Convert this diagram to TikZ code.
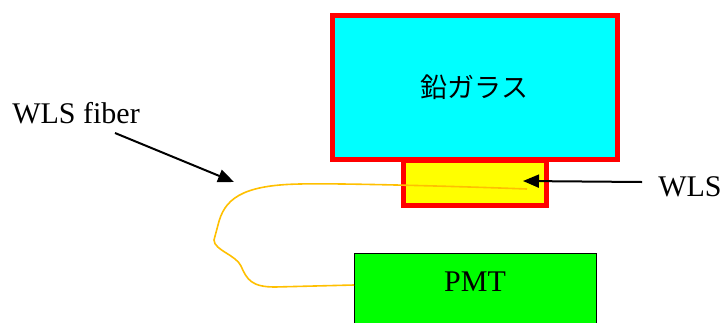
\documentclass[tikz,border=0pt]{standalone}
\usepackage{fontspec}
\setmainfont{Liberation Serif}
\newfontfamily\jpfont{Noto Sans CJK JP}
\usetikzlibrary{arrows.meta}
\definecolor{fibcol}{HTML}{FFC000}
\definecolor{cyanc}{HTML}{00FFFF}
\definecolor{yelc}{HTML}{FFFF00}
\definecolor{grnc}{HTML}{00FF00}
\definecolor{redc}{HTML}{FF0000}
\tikzset{
  redbox/.style={draw=redc, line width=5pt, inner sep=0pt},
  lbl/.style={font=\fontsize{30}{36}\selectfont, inner sep=0pt},
  arr/.style={draw=black, line width=2pt, -{Triangle[length=16pt,width=13pt]}},
  fib/.style={draw=fibcol, line width=1.6pt},
}
\begin{document}
\begin{tikzpicture}[x=1pt,y=-1pt]
\clip (0,0) rectangle (725,322);
\fill[white] (0,0) rectangle (725,322);
% boxes
\node[redbox, fill=cyanc, minimum width=285pt, minimum height=144pt,
      font=\jpfont\fontsize{27}{32}\selectfont] (glass) at (474.5,87) {鉛ガラス};
\node[redbox, fill=yelc, minimum width=143pt, minimum height=45pt] (wls) at (474.5,182.5) {};
\node[draw=black, line width=1pt, fill=grnc, minimum width=242pt, minimum height=90pt,
      inner sep=0pt] (pmt) at (475,298) {};
\node[lbl] (pmtlbl) at (475,282) {PMT};
% fiber
\coordinate (fibwls) at (527,189);
\coordinate (fibpmt) at (354,285);
\draw[fib] (fibwls) .. controls (450,186) and (330,183) .. (300,184)
  .. controls (240,185) and (224,200) .. (218,225)
  -- (214,240)
  .. controls (214,250) and (236,255) .. (241,266)
  .. controls (247,280) and (252,287) .. (275,287)
  -- (fibpmt);
% labels and arrows
\node[lbl] (fiblbl) at (76,113) {WLS fiber};
\coordinate (fibarrs) at (115,133);
\coordinate (fibarre) at (234,182);
\draw[arr] (fibarrs) -- (fibarre);
\node[lbl] (wlslbl) at (690,187) {WLS};
\coordinate (wlsarrs) at (642,182);
\coordinate (wlsarre) at (523,181);
\draw[arr] (wlsarrs) -- (wlsarre);
\end{tikzpicture}
\end{document}
